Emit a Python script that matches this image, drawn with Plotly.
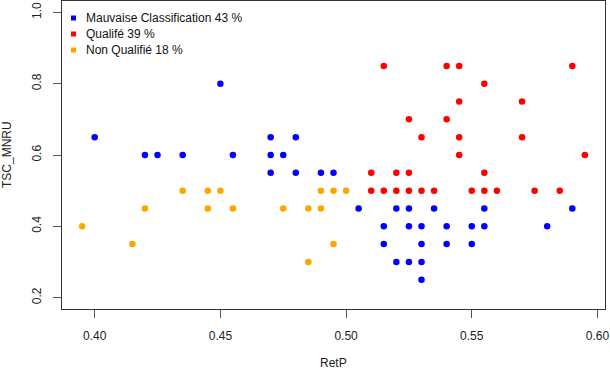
import plotly.graph_objects as go

# ---- data ----
groups = ["Mauvaise Classification 43 %", "Qualifé 39 %", "Non Qualifié 18 %"]
colors = ["#0000FF", "#FF0000", "#FFA500"]

mc_x = [0.40, 0.45, 0.42, 0.425, 0.435, 0.455, 0.47, 0.48, 0.47, 0.475,
        0.47, 0.48, 0.49, 0.495,
        0.505, 0.52, 0.525, 0.535, 0.555, 0.59,
        0.515, 0.525, 0.53, 0.54, 0.55, 0.555, 0.58,
        0.515, 0.53, 0.54, 0.55,
        0.52, 0.525, 0.53,
        0.53]
mc_y = [0.65, 0.80, 0.60, 0.60, 0.60, 0.60, 0.65, 0.65, 0.60, 0.60,
        0.55, 0.55, 0.55, 0.55,
        0.45, 0.45, 0.45, 0.45, 0.45, 0.45,
        0.40, 0.40, 0.40, 0.40, 0.40, 0.40, 0.40,
        0.35, 0.35, 0.35, 0.35,
        0.30, 0.30, 0.30,
        0.25]

q_x = [0.515, 0.54, 0.545, 0.59,
       0.555,
       0.545, 0.57,
       0.525, 0.54,
       0.53, 0.545, 0.57,
       0.545, 0.595,
       0.51, 0.52, 0.525, 0.555,
       0.51, 0.515, 0.52, 0.525, 0.53, 0.535, 0.55, 0.555, 0.56, 0.575, 0.585]
q_y = [0.85, 0.85, 0.85, 0.85,
       0.80,
       0.75, 0.75,
       0.70, 0.70,
       0.65, 0.65, 0.65,
       0.60, 0.60,
       0.55, 0.55, 0.55, 0.55,
       0.50, 0.50, 0.50, 0.50, 0.50, 0.50, 0.50, 0.50, 0.50, 0.50, 0.50]

nq_x = [0.435, 0.445, 0.45, 0.49, 0.495, 0.50,
        0.42, 0.445, 0.455, 0.475, 0.485, 0.49,
        0.395,
        0.415, 0.495,
        0.485]
nq_y = [0.50, 0.50, 0.50, 0.50, 0.50, 0.50,
        0.45, 0.45, 0.45, 0.45, 0.45, 0.45,
        0.40,
        0.35, 0.35,
        0.30]

x_ticks = [0.40, 0.45, 0.50, 0.55, 0.60]
x_ticklabels = ["0.40", "0.45", "0.50", "0.55", "0.60"]
y_ticks = [0.2, 0.4, 0.6, 0.8, 1.0]
y_ticklabels = ["0.2", "0.4", "0.6", "0.8", "1.0"]
x_title = "RetP"
y_title = "TSC_MNRU"

FONT = "Liberation Sans, Arial, sans-serif"

fig = go.Figure()
for name, col, xs, ys in zip(groups, colors, [mc_x, q_x, nq_x], [mc_y, q_y, nq_y]):
    fig.add_trace(go.Scatter(x=xs, y=ys, mode="markers", name=name,
                             marker=dict(color=col, size=6.5, line=dict(width=0)),
                             showlegend=False))

axis_common = dict(showgrid=False, zeroline=False, showline=True, mirror=True,
                   linecolor="#333333", linewidth=1, ticks="outside", ticklen=8,
                   tickcolor="#555555", tickwidth=1, automargin=False,
                   tickfont=dict(family=FONT, size=12, color="#222222"))

fig.update_xaxes(range=[0.387, 0.603], tickvals=x_ticks, ticktext=x_ticklabels,
                 ticklabelstandoff=8, **axis_common)
fig.update_yaxes(range=[0.168, 1.032], tickvals=y_ticks, ticktext=y_ticklabels,
                 tickangle=-90, ticklabelstandoff=7, **axis_common)

annotations = [
    dict(text=x_title, xref="paper", yref="paper", x=0.5, y=0, yshift=-54,
         xanchor="center", yanchor="middle", showarrow=False,
         font=dict(family=FONT, size=12, color="#222222")),
    dict(text=y_title, xref="paper", yref="paper", x=0, y=0.5, xshift=-55,
         xanchor="center", yanchor="middle", textangle=-90, showarrow=False,
         font=dict(family=FONT, size=12, color="#222222")),
]
shapes = []
for i, (name, col) in enumerate(zip(groups, colors)):
    yc = -17 - 16 * i
    annotations.append(dict(text=name, xref="paper", yref="paper", x=0, y=1,
                            xshift=22, yshift=yc, xanchor="left", yanchor="middle",
                            showarrow=False,
                            font=dict(family=FONT, size=12, color="#111111")))
    shapes.append(dict(type="rect", xref="paper", yref="paper",
                       xsizemode="pixel", ysizemode="pixel",
                       xanchor=0, yanchor=1, x0=9, x1=14, y0=yc - 2.5, y1=yc + 2.5,
                       fillcolor=col, line=dict(width=0)))

fig.update_layout(width=610, height=370, margin=dict(l=62, r=5, t=1, b=61),
                  plot_bgcolor="white", paper_bgcolor="white",
                  annotations=annotations, shapes=shapes, showlegend=False,
                  font=dict(family=FONT, size=12))

fig.write_html("out.html", config={"displayModeBar": False},
               post_script="document.body.style.margin='0px';document.body.style.overflow='hidden';")
